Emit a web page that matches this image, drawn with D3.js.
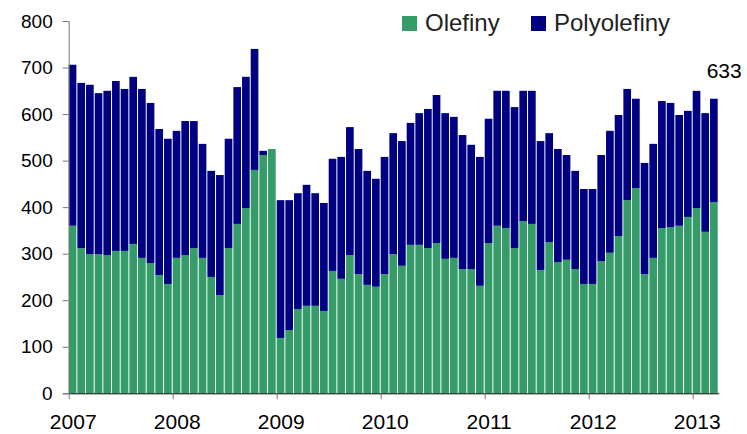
<!DOCTYPE html>
<html lang="en">
<head>
<meta charset="UTF-8">
<title>Olefiny / Polyolefiny</title>
<script src="https://d3js.org/d3.v7.min.js"></script>
<style>
  body { margin: 0; background: #fff; }
  svg { display: block; font-family: Arial, "Liberation Sans", sans-serif; }
</style>
</head>
<body>
<div id="chart"></div>
<script>
  // monthly values, Jan 2007 .. Mar 2013
  const years = [2007, 2008, 2009, 2010, 2011, 2012, 2013];
  const olefiny = [
    360, 312, 299, 299, 297, 306, 306, 321, 291, 280, 254, 235,
    291, 297, 312, 291, 250, 211, 312, 364, 398, 480, 512, 525,
    119, 136, 181, 188, 188, 177, 263, 246, 297, 256, 233, 229,
    256, 299, 274, 319, 319, 312, 323, 289, 291, 267, 267, 231,
    323, 360, 355, 312, 370, 364, 265, 325, 282, 287, 267, 235,
    235, 284, 302, 338, 415, 441, 256, 291, 355, 357, 360, 379,
    398, 347, 411
  ];
  const polyolefiny = [
    346, 355, 364, 346, 353, 365, 348, 359, 363, 344, 314, 312,
    273, 288, 273, 245, 228, 258, 235, 294, 282, 260, 9, 0,
    296, 279, 249, 260, 242, 232, 241, 262, 275, 269, 245, 232,
    252, 260, 268, 262, 283, 299, 318, 313, 303, 288, 267, 277,
    267, 290, 295, 303, 280, 286, 277, 234, 243, 225, 211, 204,
    204, 228, 262, 260, 239, 192, 239, 245, 273, 267, 238, 228,
    252, 255, 222
  ];
  const yTicks = [0, 100, 200, 300, 400, 500, 600, 700, 800];
  const seriesNames = ["Olefiny", "Polyolefiny"];
  const colors = ["#359b69", "#000080"];

  const w = 747, h = 434;
  const mLeft = 68.7, mTop = 21, mBottom = 393.3;
  const monthW = 104 / 12;

  const rows = olefiny.map((d, i) => ({ i: i, Olefiny: d, Polyolefiny: polyolefiny[i] }));

  const svg = d3.select("#chart").append("svg")
    .attr("width", w)
    .attr("height", h);

  const x = d3.scaleBand()
    .domain(rows.map(d => d.i))
    .range([mLeft, mLeft + rows.length * monthW])
    .padding(0);

  // linear month scale used for the year ticks
  const xm = d3.scaleLinear()
    .domain([0, rows.length])
    .range([mLeft, mLeft + rows.length * monthW]);

  const y = d3.scaleLinear()
    .domain([0, 800])
    .range([mBottom, mTop]);

  const stacked = d3.stack().keys(seriesNames)(rows);

  // BARS
  svg.append("g")
    .selectAll("g")
    .data(stacked)
    .join("g")
    .attr("fill", (d, k) => colors[k])
    .selectAll("rect")
    .data(d => d)
    .join("rect")
    .attr("x", d => x(d.data.i))
    .attr("width", x.bandwidth() - 1)
    .attr("y", d => y(d[1]))
    .attr("height", d => y(d[0]) - y(d[1]));

  // Y AXIS
  const yAxis = svg.append("g")
    .attr("transform", `translate(${mLeft},0)`)
    .call(d3.axisLeft(y).tickValues(yTicks).tickSize(6).tickPadding(10));
  yAxis.select(".domain").attr("stroke", "#777");
  yAxis.selectAll(".tick line").attr("stroke", "#777");
  yAxis.selectAll("text").attr("font-size", 19).attr("fill", "#000");

  // X AXIS
  const xAxis = svg.append("g")
    .attr("transform", `translate(0,${mBottom})`)
    .call(d3.axisBottom(xm)
      .tickValues(years.map((yr, k) => k * 12))
      .tickFormat((d, k) => years[k])
      .tickSize(6)
      .tickSizeOuter(0)
      .tickPadding(15));
  xAxis.select(".domain").attr("stroke", "#000");
  xAxis.selectAll(".tick line").attr("stroke", "#777");
  xAxis.selectAll("text")
    .attr("font-size", 21)
    .attr("fill", "#000")
    .attr("dx", 4);

  // last value label
  const last = rows.length - 1;
  svg.append("text")
    .attr("x", x(last) + x.bandwidth() + 23)
    .attr("y", 78)
    .attr("text-anchor", "end")
    .attr("font-size", 21)
    .text(olefiny[last] + polyolefiny[last]);

  // LEGEND
  const legendX = [402, 531];
  const legend = svg.append("g")
    .selectAll("g")
    .data(seriesNames)
    .join("g")
    .attr("transform", (d, k) => `translate(${legendX[k]},16)`);

  legend.append("rect")
    .attr("width", 15)
    .attr("height", 15)
    .attr("fill", (d, k) => colors[k]);

  legend.append("text")
    .attr("x", 23)
    .attr("y", 15)
    .attr("font-size", 24)
    .attr("fill", "#222")
    .text(d => d);
</script>
</body>
</html>
